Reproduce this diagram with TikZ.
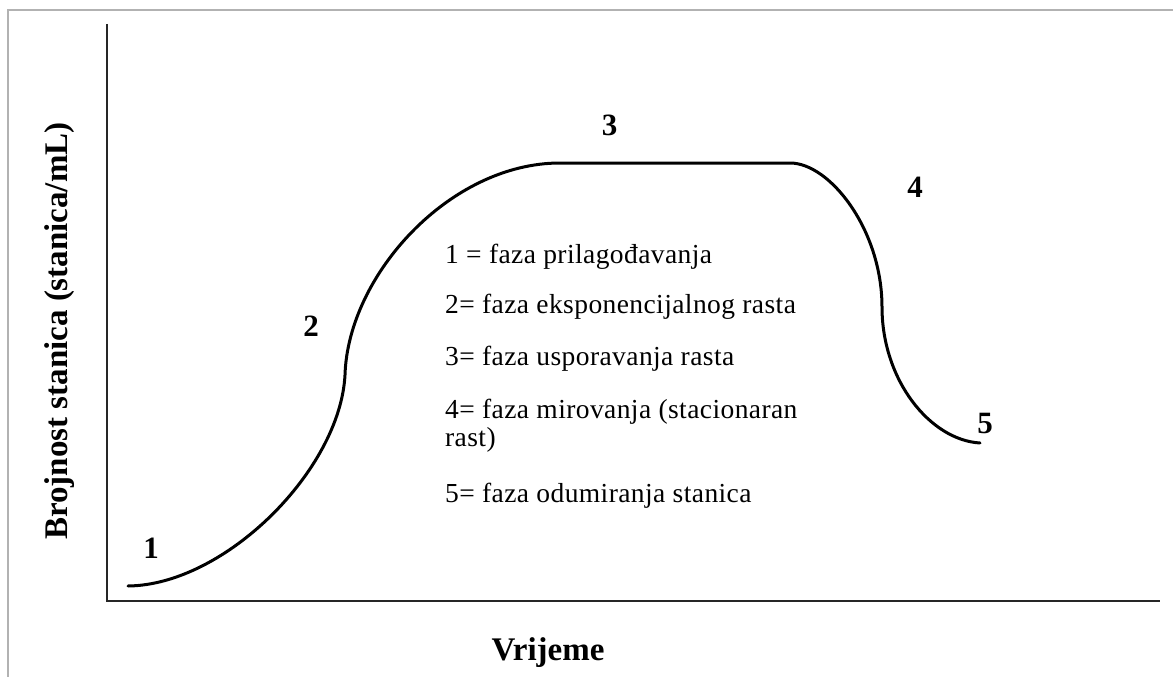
\documentclass[tikz,border=0pt]{standalone}
\usepackage{fontspec}
\setmainfont{Liberation Serif}
\newfontfamily\legfont[LetterSpace=1.5]{Liberation Serif}
\begin{document}
\begin{tikzpicture}[x=1pt,y=-1pt,
  frame/.style={draw=black!30,line width=1.5pt},
  axis/.style={draw=black!85,line width=2pt},
  growth/.style={draw=black,line width=3pt},
  phase/.style={inner sep=0pt,anchor=base,font=\fontsize{31}{36}\selectfont\bfseries},
  legend/.style={inner sep=0pt,anchor=base west,font=\fontsize{27.5}{32}\legfont},
  axlabel/.style={inner sep=0pt,anchor=base,font=\fontsize{33}{39}\selectfont\bfseries}]
\useasboundingbox (0,0) rectangle (1173,677);
% outer frame (top and left edges only)
\coordinate (f1) at (1173,10);
\coordinate (f2) at (8,10);
\coordinate (f3) at (8,677);
\draw[frame] (f1) -- (f2) -- (f3);
% axes
\coordinate (ytop) at (107,24);
\coordinate (orig) at (107,601);
\coordinate (xend) at (1160,601);
\draw[axis] (ytop) -- (orig) -- (xend);
% growth curve
\coordinate (c0) at (128,586);
\coordinate (c1) at (345,375);
\coordinate (c2) at (560,163);
\coordinate (c3) at (790,163);
\coordinate (c4) at (882,307);
\coordinate (c5) at (980,443);
\draw[growth,line cap=round] (c0) .. controls (225,585) and (340,470) .. (c1)
  .. controls (348,275) and (450,163) .. (c2) -- (c3)
  .. controls (830,163) and (882,230) .. (c4)
  .. controls (882,380) and (930,440) .. (c5);
% phase labels
\node[phase] (p1) at (151,558) {1};
\node[phase] (p2) at (311,336) {2};
\node[phase] (p3) at (609.5,135) {3};
\node[phase] (p4) at (915,197) {4};
\node[phase] (p5) at (985,433) {5};
% legend
\node[legend] (l1) at (445,263) {1 = faza prilagođavanja};
\node[legend] (l2) at (445,313) {2= faza eksponencijalnog rasta};
\node[legend] (l3) at (445,365) {3= faza usporavanja rasta};
\node[legend] (l4) at (445,418) {4= faza mirovanja (stacionaran};
\node[legend] (l4b) at (445,446) {rast)};
\node[legend] (l5) at (445,502) {5= faza odumiranja stanica};
% axis labels
\node[axlabel] (xl) at (548,660) {Vrijeme};
\node[axlabel,rotate=90] (yl) at (67,331) {Brojnost stanica (stanica/mL)};
\end{tikzpicture}
\end{document}
